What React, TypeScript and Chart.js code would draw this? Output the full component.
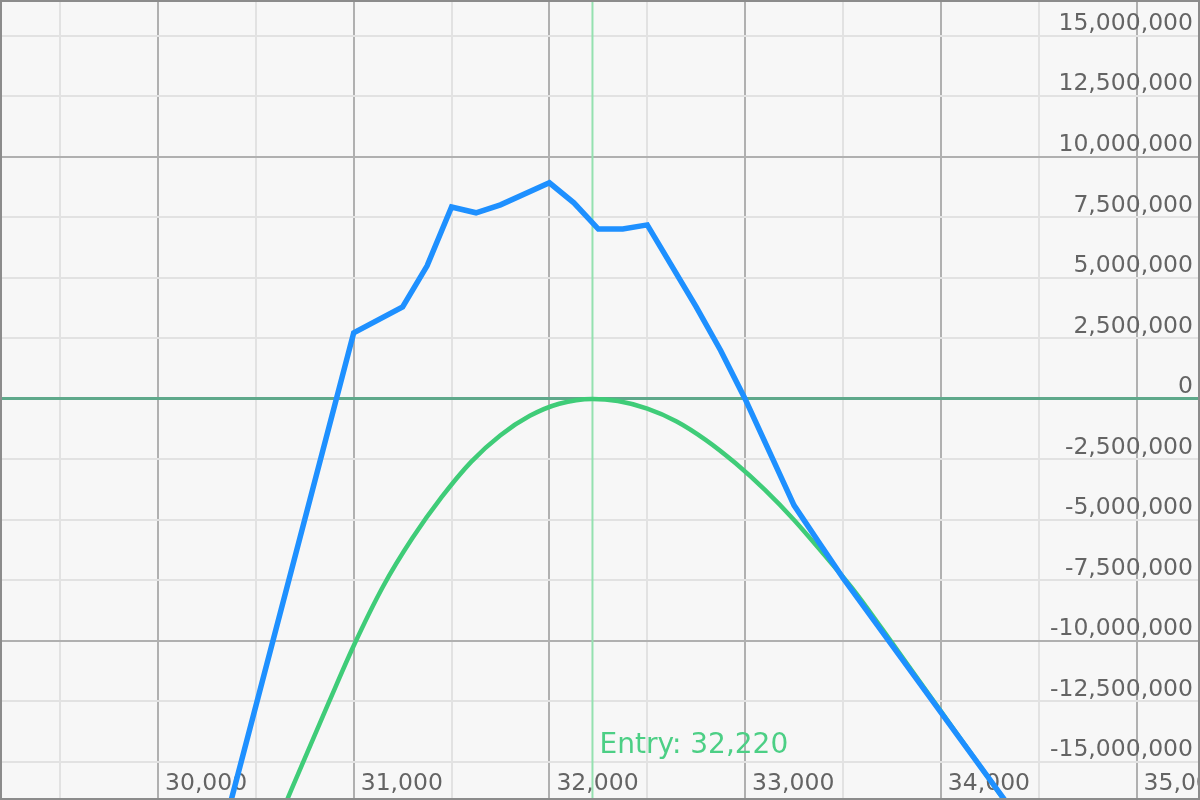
import { useEffect, useRef } from "react";
import { Chart, registerables } from "chart.js";

Chart.register(...registerables);

// Price axis range and entry price
const X_MIN = 29203;
const X_MAX = 35314;
const Y_MIN = -16490000;
const Y_MAX = 16400000;
const ENTRY = 32220;

// Tick values (labels are formatted from these)
const xTicks = [29500, 30000, 30500, 31000, 31500, 32000, 32500, 33000, 33500, 34000, 34500, 35000];
const yTicks = [-15000000, -12500000, -10000000, -7500000, -5000000, -2500000, 0, 2500000, 5000000, 7500000, 10000000, 12500000, 15000000];
const X_LABEL_STEP = 1000;
const Y_MAJOR_STEP = 10000000;

// Blue series (P&L at expiry)
const blueX = [30250, 31000, 31250, 31375, 31500, 31625, 31750, 32000, 32125, 32250, 32375, 32500, 32625, 32750, 32875, 33000, 33125, 33250, 33375, 33500, 34500];
const blueY = [-20400000, 2730000, 3800000, 5500000, 7930000, 7690000, 8020000, 8930000, 8100000, 7020000, 7020000, 7190000, 5500000, 3800000, 2000000, 0, -2200000, -4400000, -5900000, -7400000, -18500000];

// Green series (P&L today)
const greenX = [30500, 30650, 30750, 30875, 31000, 31150, 31300, 31450, 31600, 31750, 31900, 32050, 32220, 32350, 32500, 32650, 32800, 32950, 33100, 33250, 33400, 33550, 33700, 33850, 34000, 34150, 34300, 34450];
const greenY = [-19600000, -16750000, -14850000, -12500000, -10200000, -7750000, -5750000, -4050000, -2600000, -1500000, -700000, -200000, 0, -90000, -400000, -930000, -1700000, -2650000, -3750000, -5000000, -6400000, -7850000, -9500000, -11200000, -12900000, -14600000, -16300000, -18000000];

const FONT = "'DejaVu Sans', Verdana, sans-serif";
const MAJOR = "#b0b0b0";
const MINOR = "#e2e2e2";
const ZERO = "#5fa98b";
const TEXT = "#646464";

const fmt = (v: number) => Number(v).toLocaleString("en-US");

const zeroPad = (s: any) => {
  s.paddingLeft = 0;
  s.paddingRight = 0;
  s.paddingTop = 0;
  s.paddingBottom = 0;
};

const entryPlugin = {
  id: "entryLine",
  beforeDatasetsDraw(chart: any) {
    const { ctx, chartArea, scales } = chart;
    const px = scales.x.getPixelForValue(ENTRY);
    ctx.save();
    ctx.strokeStyle = "#95e1b0";
    ctx.lineWidth = 2;
    ctx.beginPath();
    ctx.moveTo(px, chartArea.top);
    ctx.lineTo(px, chartArea.bottom);
    ctx.stroke();
    ctx.fillStyle = "#4ccf85";
    ctx.font = `28px ${FONT}`;
    ctx.textAlign = "left";
    ctx.textBaseline = "alphabetic";
    ctx.fillText(`Entry: ${fmt(ENTRY)}`, px + 7, chartArea.bottom - 45);
    ctx.restore();
  },
};

export default function App() {
  const ref = useRef<HTMLCanvasElement>(null);

  useEffect(() => {
    const prev = document.body.style.margin;
    document.body.style.margin = "0";
    const chart = new Chart(ref.current as HTMLCanvasElement, {
      type: "line",
      data: {
        datasets: [
          {
            label: "Expiry",
            data: blueX.map((x, i) => ({ x, y: blueY[i] })),
            borderColor: "#1e90ff",
            borderWidth: 5.5,
            pointRadius: 0,
            tension: 0,
            order: 0,
          },
          {
            label: "Today",
            data: greenX.map((x, i) => ({ x, y: greenY[i] })),
            borderColor: "#3fcc78",
            borderWidth: 4.5,
            pointRadius: 0,
            cubicInterpolationMode: "monotone",
            order: 1,
          },
        ],
      },
      options: {
        responsive: false,
        animation: false,
        layout: { padding: 0 },
        plugins: {
          legend: { display: false },
          tooltip: { enabled: false },
          title: { display: false },
        },
        scales: {
          x: {
            type: "linear",
            position: "bottom",
            min: X_MIN,
            max: X_MAX,
            border: { display: false },
            grid: {
              drawTicks: false,
              lineWidth: 2,
              color: (c: any) => (c.tick && c.tick.value % X_LABEL_STEP === 0 ? MAJOR : MINOR),
            },
            afterBuildTicks: (s: any) => {
              s.ticks = xTicks.map((value) => ({ value }));
            },
            ticks: {
              autoSkip: false,
              maxRotation: 0,
              minRotation: 0,
              mirror: true,
              align: "start",
              labelOffset: 7,
              padding: 0,
              color: TEXT,
              font: { size: 23.5, family: FONT },
              callback: (v: any) => (Number(v) % X_LABEL_STEP === 0 ? fmt(Number(v)) : ""),
            },
            afterFit: (s: any) => {
              zeroPad(s);
              s.height = 0;
            },
          },
          y: {
            type: "linear",
            position: "right",
            min: Y_MIN,
            max: Y_MAX,
            border: { display: false },
            grid: {
              drawTicks: false,
              lineWidth: (c: any) => (c.tick && c.tick.value === 0 ? 3 : 2),
              color: (c: any) => {
                const v = c.tick ? c.tick.value : 1;
                if (v === 0) return ZERO;
                return Math.abs(v) % Y_MAJOR_STEP === 0 ? MAJOR : MINOR;
              },
            },
            afterBuildTicks: (s: any) => {
              s.ticks = yTicks.map((value) => ({ value }));
            },
            ticks: {
              autoSkip: false,
              mirror: true,
              padding: -5,
              labelOffset: -12,
              color: TEXT,
              font: { size: 23.5, family: FONT },
              callback: (v: any) => fmt(Number(v)),
            },
            afterFit: (s: any) => {
              zeroPad(s);
              s.width = 0;
            },
          },
        },
      },
      plugins: [entryPlugin],
    } as any);
    return () => {
      chart.destroy();
      document.body.style.margin = prev;
    };
  }, []);

  return (
    <div
      style={{
        position: "fixed",
        left: 0,
        top: 0,
        width: 1200,
        height: 800,
        boxSizing: "border-box",
        border: "2px solid #8c8c8c",
        background: "#f7f7f7",
      }}
    >
      <canvas ref={ref} width={1196} height={796} style={{ display: "block", width: 1196, height: 796 }} />
    </div>
  );
}
